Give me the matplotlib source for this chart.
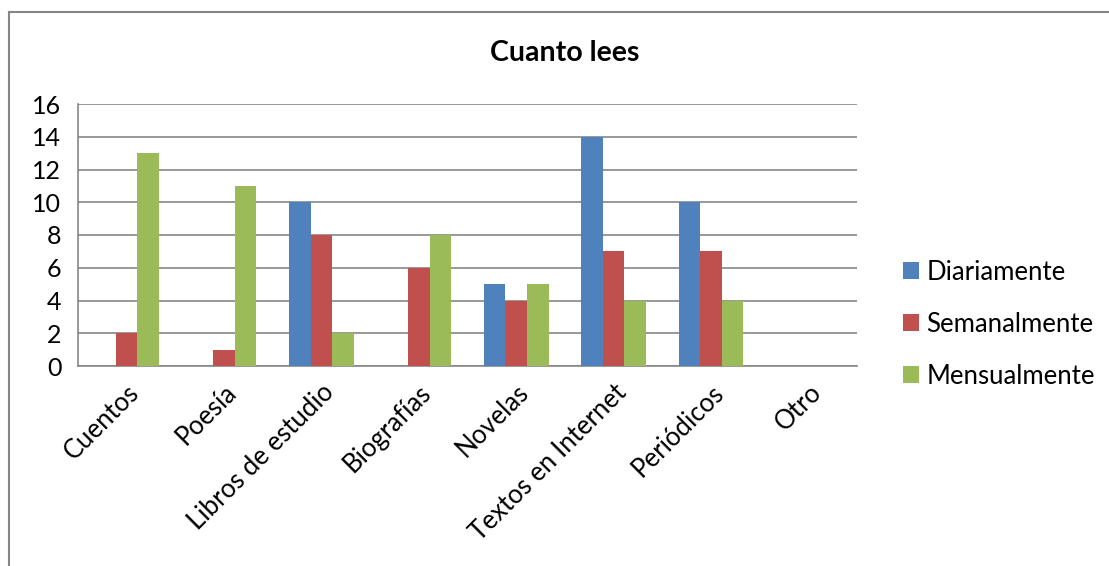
import numpy as np
import matplotlib.pyplot as plt
from matplotlib.lines import Line2D

plt.rcParams['font.family'] = ['Lato', 'DejaVu Sans']

categories = ["Cuentos", "Poesía", "Libros de estudio", "Biografías", "Novelas",
              "Textos en Internet", "Periódicos", "Otro"]
diariamente = [0, 0, 10, 0, 5, 14, 10, 0]
semanalmente = [2, 1, 8, 6, 4, 7, 7, 0]
mensualmente = [13, 11, 2, 8, 5, 4, 4, 0]
series_names = ["Diariamente", "Semanalmente", "Mensualmente"]
colors = ["#4F81BD", "#C0504D", "#9BBB59"]

fig = plt.figure(figsize=(11.09, 5.66), dpi=100)
ax = fig.add_axes([78 / 1109, 1 - 366 / 566, (857 - 78) / 1109, (366 - 104) / 566])

x = np.arange(len(categories))
w = 0.222
for i, (vals, name, c) in enumerate(zip([diariamente, semanalmente, mensualmente], series_names, colors)):
    ax.bar(x + (i - 1) * w, vals, width=w, color=c, label=name, zorder=3)

ax.set_xlim(-0.5, len(categories) - 0.5)
ax.set_ylim(0, 16)
ax.set_yticks(range(0, 17, 2))
ax.yaxis.grid(True, color="#868686", linewidth=1.2, zorder=0)
for s in ["top", "right"]:
    ax.spines[s].set_visible(False)
for s in ["left", "bottom"]:
    ax.spines[s].set_color("#868686")
    ax.spines[s].set_linewidth(1.2)
ax.tick_params(axis="y", length=0, labelsize=18, pad=12)
ax.tick_params(axis="x", length=0, labelsize=18.5, pad=10)
ax.set_xticks(x)
ax.set_xticklabels(categories, rotation=45, ha="right", rotation_mode="anchor")

fig.text(565 / 1109, 1 - 53 / 566, "Cuanto lees", ha="center", va="center",
         fontsize=20.5, fontweight="bold")

ax.legend(loc="center left", bbox_to_anchor=(1.03, 0.16), frameon=False,
          fontsize=18.5, handlelength=0.6, handleheight=0.6, handletextpad=0.3,
          labelspacing=1.05)

# chart border (top and left visible)
fig.add_artist(Line2D([9 / 1109, 1], [1 - 12 / 566, 1 - 12 / 566], color="#868686", lw=1.5))
fig.add_artist(Line2D([9 / 1109, 9 / 1109], [0, 1 - 12 / 566], color="#868686", lw=1.5))

fig.savefig("out.png", dpi=100)
